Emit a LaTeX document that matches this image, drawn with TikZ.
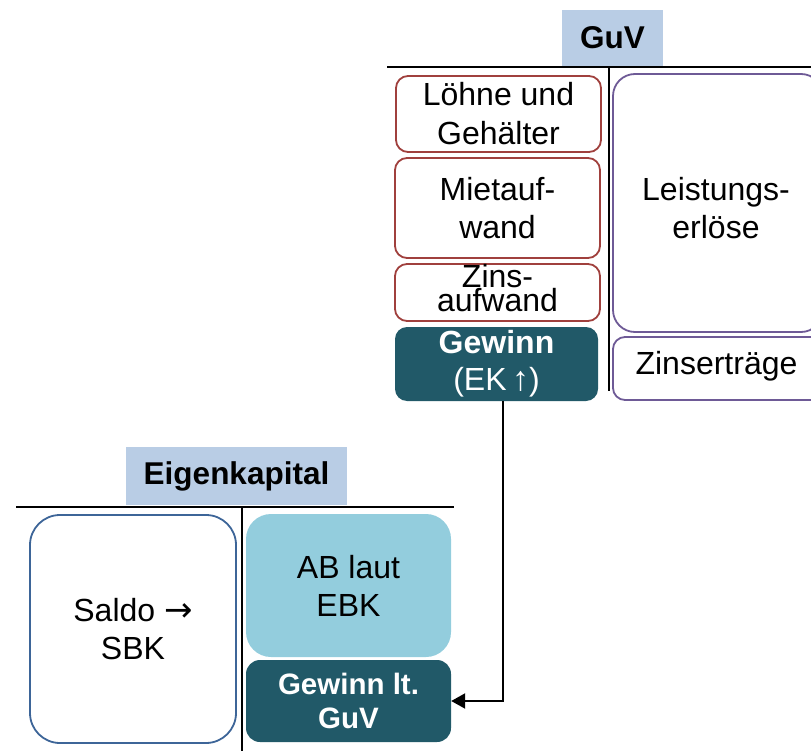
\documentclass[tikz,border=0pt]{standalone}
\usepackage{fontspec}
\setmainfont{Liberation Sans}
\newfontfamily\symfont{DejaVu Sans}
\usetikzlibrary{arrows.meta,calc}
\definecolor{headfill}{HTML}{B9CDE5}
\definecolor{expred}{HTML}{A0403D}
\definecolor{revpurple}{HTML}{6E5A96}
\definecolor{saldoblue}{HTML}{3D6598}
\definecolor{profitteal}{HTML}{215968}
\definecolor{ablight}{HTML}{93CDDD}
\tikzset{
  x=1pt, y=-1pt,
  txt/.style={font=\fontsize{32}{38}\selectfont, align=center, inner sep=0pt},
  head/.style={fill=headfill, inner sep=0pt, font=\fontsize{31.5}{36}\selectfont\bfseries},
  expbox/.style={draw=expred, line width=1.8pt, rounded corners=12pt, txt},
  revbox/.style={draw=revpurple, line width=1.8pt, rounded corners=22pt, txt},
  profit/.style={fill=profitteal, rounded corners=12pt, txt, text=white},
  tline/.style={line width=2.6pt},
}
\begin{document}
\begin{tikzpicture}
\useasboundingbox (0,0) rectangle (811,751);

% --- GuV account ---
\node[head, minimum width=101pt, minimum height=56pt] (guvhead) at (612.5,38) {GuV};
\coordinate (guvL) at (387,67);
\coordinate (guvR) at (815,67);
\coordinate (guvT) at (609,67);
\coordinate (guvB) at (609,391);
\draw[tline] (guvL) -- (guvR);
\draw[tline] (guvT) -- (guvB);

\node[expbox, minimum width=205pt, minimum height=76pt, font=\fontsize{32}{39}\selectfont] (loehne) at (498.5,114) {Löhne und\\Gehälter};
\node[expbox, minimum width=205pt, minimum height=100pt] (miet) at (497.5,208) {Mietauf-\\wand};
\node[expbox, minimum width=205pt, minimum height=57pt] (zins) at (497.5,292.5) {};
\node[txt, font=\fontsize{32}{24}\selectfont] (zinstxt) at (497.5,288) {Zins-\\aufwand};
\node[profit, minimum width=203pt, minimum height=74pt, font=\fontsize{32}{37}\selectfont] (gewinn) at (496.5,364)
  {\textbf{Gewinn}\\(EK\,{\fontsize{34}{37}\selectfont ↑})};

\node[revbox, minimum width=210pt, minimum height=258pt] (leist) at (718,203) {};
\node[txt] (leisttxt) at (716,208) {Leistungs-\\erlöse};
\node[revbox, rounded corners=12pt, minimum width=210pt, minimum height=63pt] (zinsertr) at (718,368.5) {};
\node[txt] (zinsertrtxt) at (716.5,366) {Zinserträge};

% --- Eigenkapital account ---
\node[head, minimum width=221pt, minimum height=58pt] (ekhead) at (236.5,476) {Eigenkapital};
\coordinate (ekL) at (16,507);
\coordinate (ekR) at (454,507);
\coordinate (ekT) at (242,507);
\coordinate (ekB) at (242,755);
\draw[tline] (ekL) -- (ekR);
\draw[tline] (ekT) -- (ekB);

\node[draw=saldoblue, line width=1.8pt, rounded corners=30pt, txt, minimum width=206pt, minimum height=228pt] (saldo) at (133,629)
  {Saldo {\symfont\fontsize{34}{38}\selectfont →}\\SBK};
\node[fill=ablight, rounded corners=25pt, txt, minimum width=205pt, minimum height=143pt] (ab) at (348.5,585.5) {AB laut\\EBK};
\node[profit, rounded corners=14pt, minimum width=205pt, minimum height=82pt, font=\fontsize{29.5}{34}\selectfont\bfseries] (gewinnlt) at (348.5,701) {Gewinn lt.\\GuV};

% --- transfer of the profit ---
\draw[line width=2.2pt, -{Triangle[length=14pt, width=15pt]}] ([xshift=6.5pt]gewinn.south) |- (gewinnlt.east);
\end{tikzpicture}
\end{document}
